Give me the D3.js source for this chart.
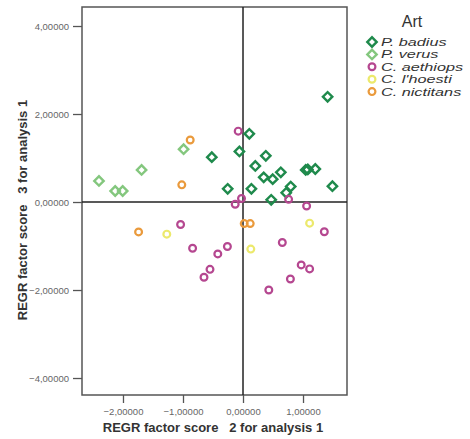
<!DOCTYPE html>
<html><head><meta charset="utf-8">
<script src="https://cdn.jsdelivr.net/npm/d3@7"></script>
<style>body{margin:0;background:#fff;} svg{display:block;}</style>
</head><body>
<svg id="c" width="470" height="439"></svg>
<script>
const species = ["P. badius","P. verus","C. aethiops","C. l'hoesti","C. nictitans"];
const colors = ["#1f8a4c","#84c77e","#b54790","#ece96c","#ea9a3c"];
const shapes = ["diamond","diamond","circle","circle","circle"];
const xTicks = [-2,-1,0,1];
const yTicks = [-4,-2,0,2,4];

const badius = [[-0.52,1.02],[1.41,2.39],[0.105,1.55],[-0.06,1.15],[0.38,1.05],[0.205,0.82],[0.345,0.56],[0.495,0.52],[0.63,0.675],[1.045,0.73],[1.08,0.74],[1.205,0.75],[1.49,0.36],[-0.255,0.30],[0.14,0.30],[0.795,0.35],[0.72,0.21],[0.47,0.05]];
const verus = [[-2.40,0.48],[-2.13,0.25],[-2.005,0.25],[-1.69,0.73],[-0.99,1.20]];
const aethiops = [[-0.08,1.61],[0.76,0.06],[1.06,-0.09],[-0.025,0.08],[-0.13,-0.05],[-1.04,-0.51],[-0.84,-1.05],[-0.42,-1.18],[-0.26,-1.01],[-0.55,-1.53],[-0.65,-1.71],[0.655,-0.92],[1.355,-0.675],[0.97,-1.43],[1.11,-1.52],[0.79,-1.75],[0.43,-2.0]];
const lhoesti = [[-1.27,-0.73],[0.13,-1.07],[1.11,-0.48]];
const nictitans = [[-0.88,1.41],[-1.02,0.39],[-1.74,-0.68],[0.02,-0.49],[0.12,-0.49]];
const seriesData = [badius, verus, aethiops, lhoesti, nictitans];

const svg = d3.select("#c");
const L=82, R=347, T=7, B=395;
const x = d3.scaleLinear().domain([-2.683,1.733]).range([L,R]);
const y = d3.scaleLinear().domain([-4.386,4.432]).range([B,T]);
const fmt = v => d3.format(".5f")(v).replace(".",",");
const font = "'Liberation Sans', Arial, sans-serif";

// axes
const ax = svg.append("g").attr("transform",`translate(0,${B})`)
  .call(d3.axisBottom(x).tickValues(xTicks).tickSize(8).tickSizeOuter(0).tickFormat(fmt));
const ay = svg.append("g").attr("transform",`translate(${L},0)`)
  .call(d3.axisLeft(y).tickValues(yTicks).tickSize(9).tickSizeOuter(0).tickFormat(fmt));
[ax,ay].forEach(a=>{
  a.select(".domain").remove();
  a.selectAll("line").attr("stroke","#555").attr("stroke-width",1.3);
  a.selectAll("text").attr("fill","#666").style("font-family",font).style("font-size","9.5px");
});
ax.selectAll("text").attr("dy","0.9em");
ay.selectAll("text").attr("dx","-1px");

// frame
svg.append("rect").attr("x",L).attr("y",T).attr("width",R-L).attr("height",B-T)
  .attr("fill","none").attr("stroke","#555").attr("stroke-width",1.5);
// zero lines
svg.append("line").attr("x1",x(0)).attr("x2",x(0)).attr("y1",T).attr("y2",B).attr("stroke","#222").attr("stroke-width",1.5);
svg.append("line").attr("x1",L).attr("x2",R).attr("y1",y(0)).attr("y2",y(0)).attr("stroke","#222").attr("stroke-width",1.5);

const diamond = d3.symbol().type(d3.symbolSquare).size(44);
function drawMarker(g, shape, color){
  if(shape==="diamond"){
    g.append("path").attr("d",diamond()).attr("transform","rotate(45)")
      .attr("fill","none").attr("stroke",color).attr("stroke-width",2.4);
  } else {
    g.append("circle").attr("r",3.4).attr("fill","none").attr("stroke",color).attr("stroke-width",2.2);
  }
}
seriesData.forEach((data,i)=>{
  data.forEach(d=>{
    const g = svg.append("g").attr("transform",`translate(${x(d[0])},${y(d[1])})`);
    drawMarker(g, shapes[i], colors[i]);
  });
});

// axis titles
svg.append("text").attr("x",213).attr("y",432).attr("text-anchor","middle")
  .style("font-family",font).style("font-size","13px").style("font-weight","bold").attr("fill","#333")
  .attr("xml:space","preserve").text("REGR factor score   2 for analysis 1");
svg.append("text").attr("transform","translate(27,210) rotate(-90)").attr("text-anchor","middle")
  .style("font-family",font).style("font-size","13px").style("font-weight","bold").attr("fill","#333")
  .attr("xml:space","preserve").text("REGR factor score   3 for analysis 1");

// legend
svg.append("text").attr("x",412).attr("y",27).attr("text-anchor","middle")
  .style("font-family",font).style("font-size","16px").attr("fill","#333").text("Art");
species.forEach((s,i)=>{
  const yy = 42 + i*12.4;
  const g = svg.append("g").attr("transform",`translate(372,${yy})`);
  drawMarker(g, shapes[i], colors[i]);
  svg.append("text").attr("transform",`translate(381,${yy+4}) scale(1.45,1)`)
    .style("font-family",font).style("font-size","11.2px").style("font-style","italic").attr("fill","#333").text(s);
});
</script>
</body></html>
